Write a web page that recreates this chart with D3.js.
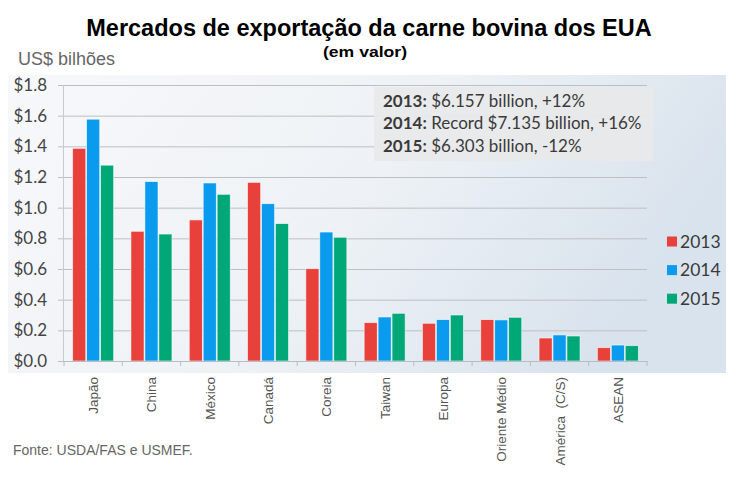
<!DOCTYPE html>
<html><head><meta charset="utf-8">
<script src="https://cdn.jsdelivr.net/npm/d3@7"></script>
<style>html,body{margin:0;padding:0;background:#fff;}svg{display:block;}</style>
</head><body>
<svg id="c" width="739" height="482"></svg>
<script>
const categories = ["Japão","China","México","Canadá","Coreia","Taiwan","Europa","Oriente Médio","América  (C/S)","ASEAN"];
const series = ["2013","2014","2015"];
const values2013 = [1.387,0.846,0.920,1.165,0.602,0.250,0.246,0.270,0.150,0.087];
const values2014 = [1.577,1.170,1.161,1.026,0.841,0.287,0.270,0.268,0.170,0.104];
const values2015 = [1.277,0.828,1.087,0.896,0.807,0.311,0.300,0.285,0.163,0.100];
const yTicks = [0,0.2,0.4,0.6,0.8,1.0,1.2,1.4,1.6,1.8];
const colors = ["#e8403a","#0a9aee","#00a878"];
const notes = [["2013:"," $6.157 billion, +12%"],["2014:"," Record $7.135 billion, +16%"],["2015:"," $6.303 billion, -12%"]];

const svg = d3.select("#c");
const defs = svg.append("defs");
const grad = defs.append("linearGradient").attr("id","bg").attr("x1","0").attr("x2","1").attr("y1","0").attr("y2","0.3");
grad.append("stop").attr("offset","0").attr("stop-color","#f7f8fa");
grad.append("stop").attr("offset","0.55").attr("stop-color","#eef2f6");
grad.append("stop").attr("offset","1").attr("stop-color","#d9e3ed");
svg.append("rect").attr("x",8).attr("y",75).attr("width",718).attr("height",298).attr("fill","url(#bg)");

const x0 = 64, x1 = 647, yTop = 85, yBot = 361;
const x = d3.scaleBand().domain(categories).range([x0,x1]).paddingInner(0).paddingOuter(0);
const y = d3.scaleLinear().domain([0,1.8]).range([yBot,yTop]);
const xs = d3.scaleBand().domain(series).range([0,x.bandwidth()]).paddingInner(0.06).paddingOuter(0.62);

// grid
const grid = svg.append("g").attr("transform",`translate(${x0-1},0)`)
  .call(d3.axisLeft(y).tickValues(yTicks).tickSize(-(x1-x0+1)).tickFormat(""));
grid.select(".domain").remove();
grid.selectAll("line").attr("stroke","#bcbfc3").attr("stroke-width",1);

// y axis labels + ticks
const ya = svg.append("g").attr("transform",`translate(${x0-1},0)`)
  .call(d3.axisLeft(y).tickValues(yTicks).tickSize(5).tickPadding(11).tickFormat(d=>"$"+d.toFixed(1)));
ya.select(".domain").attr("stroke","#c8cacc");
ya.selectAll("line").attr("stroke","#bcbfc3");
ya.selectAll("text").attr("font-family","Lato, 'Open Sans', sans-serif").attr("font-size",17).attr("fill","#444");

// bars
const data = [values2013, values2014, values2015];
categories.forEach((c,i)=>{
  series.forEach((s,j)=>{
    svg.append("rect")
      .attr("x",x(c)+xs(s)).attr("y",y(data[j][i]))
      .attr("width",xs.bandwidth()).attr("height",y(0)-y(data[j][i]))
      .attr("fill",colors[j]).attr("stroke","#ffffff").attr("stroke-width",0.8).attr("stroke-opacity",0.7);
  });
});

// x axis
const xa = svg.append("g").attr("transform",`translate(0,${yBot})`)
  .call(d3.axisBottom(x).tickSize(0).tickFormat(""));
xa.select(".domain").attr("stroke","#b9bcc0");
const bounds = categories.map(c=>x(c)).concat([x1]);
svg.append("g").selectAll("line").data(bounds).join("line")
  .attr("x1",d=>d).attr("x2",d=>d).attr("y1",yBot).attr("y2",yBot+5).attr("stroke","#b9bcc0");

// category labels
svg.append("g").selectAll("text").data(categories).join("text")
  .attr("transform",d=>`translate(${x(d)+x.bandwidth()/2+5},377) rotate(-90)`)
  .attr("text-anchor","end").attr("font-family","Arial, 'Liberation Sans', sans-serif")
  .attr("font-size",13.5).attr("fill","#555").attr("xml:space","preserve").style("white-space","pre").text(d=>d);

// annotation box
svg.append("rect").attr("x",374).attr("y",87).attr("width",279).attr("height",74).attr("fill","#e8e9ea").attr("opacity",0.95);
const nt = svg.append("g");
notes.forEach((n,i)=>{
  const t = nt.append("text").attr("x",383).attr("y",107+i*22.3)
    .attr("font-family","Lato, 'Open Sans', sans-serif").attr("font-size",17).attr("fill","#3a3a3a");
  t.append("tspan").attr("font-weight","bold").text(n[0]);
  t.append("tspan").text(n[1]);
});

// legend
const lg = svg.append("g");
series.forEach((s,j)=>{
  const cy = 241.5 + j*28.6;
  lg.append("rect").attr("x",667).attr("y",cy-5).attr("width",10).attr("height",10).attr("fill",colors[j]);
  lg.append("text").attr("x",680).attr("y",cy+6).attr("font-family","Lato, 'Open Sans', sans-serif")
    .attr("font-size",17.5).attr("fill","#3a3a3a").text(s);
});

// titles
svg.append("text").attr("x",369).attr("y",36).attr("text-anchor","middle")
  .attr("font-family","Arial, 'Liberation Sans', sans-serif").attr("font-weight","bold").attr("font-size",23.5).attr("fill","#000")
  .text("Mercados de exportação da carne bovina dos EUA");
svg.append("text").attr("x",323).attr("y",56.5)
  .attr("font-family","Arial, 'Liberation Sans', sans-serif").attr("font-weight","bold").attr("font-size",15)
  .attr("textLength",84).attr("lengthAdjust","spacingAndGlyphs").attr("fill","#000")
  .text("(em valor)");
svg.append("text").attr("x",18).attr("y",65)
  .attr("font-family","Arial, 'Liberation Sans', sans-serif").attr("font-size",18).attr("fill","#666")
  .text("US$ bilhões");
svg.append("text").attr("x",13).attr("y",455)
  .attr("font-family","Arial, 'Liberation Sans', sans-serif").attr("font-size",14).attr("fill","#666")
  .text("Fonte: USDA/FAS e USMEF.");
</script>
</body></html>
